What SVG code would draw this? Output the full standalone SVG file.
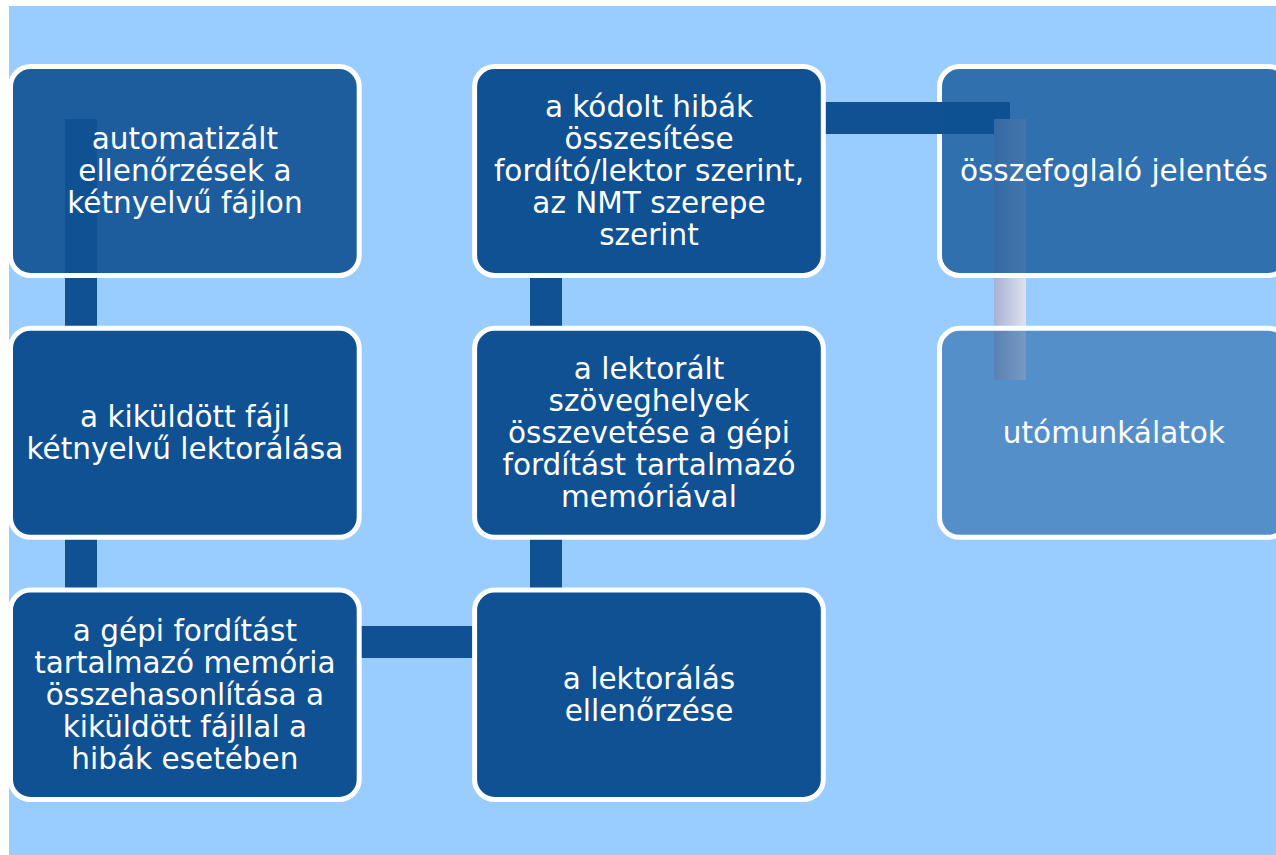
<svg xmlns="http://www.w3.org/2000/svg" width="1276" height="855" viewBox="0 0 1276 855">
  <defs>
    <linearGradient id="fade" x1="0" y1="0" x2="1" y2="0">
      <stop offset="0" stop-color="#A6B1D5"/>
      <stop offset="1" stop-color="#DEE2EF"/>
    </linearGradient>
    <style>
      .box { stroke: #FFFFFF; stroke-width: 5; }
      .dark { fill: #0F5193; }
      .bar { fill: #0F5193; }
      .lbl { font-family: "DejaVu Sans", Verdana, sans-serif; font-size: 29.5px; fill: #FFFFFF; text-anchor: middle; }
    </style>
  </defs>
  <rect x="0" y="0" width="1276" height="855" fill="#FFFFFF"/>
  <rect x="9" y="6" width="1267" height="849" fill="#99CCFF"/>

  <g id="connectors">
    <rect class="bar" x="65" y="119" width="32" height="539"/>
    <rect class="bar" x="65" y="626" width="497" height="32"/>
    <rect class="bar" x="530" y="102" width="32" height="556"/>
    <rect class="bar" x="530" y="102" width="480" height="32"/>
    <rect x="994" y="119" width="32" height="261" fill="url(#fade)"/>
  </g>

  <g id="node1">
    <rect class="box dark" x="10.5" y="66.5" width="348.7" height="209" rx="20" fill-opacity="0.9"/>
    <text class="lbl"><tspan x="184.9" y="149">automatizált</tspan><tspan x="184.9" y="181">ellenőrzések a</tspan><tspan x="184.9" y="213">kétnyelvű fájlon</tspan></text>
  </g>
  <g id="node2">
    <rect class="box dark" x="10.5" y="328.3" width="348.7" height="209" rx="20"/>
    <text class="lbl"><tspan x="184.9" y="427">a kiküldött fájl</tspan><tspan x="184.9" y="459">kétnyelvű lektorálása</tspan></text>
  </g>
  <g id="node3">
    <rect class="box dark" x="10.5" y="590.1" width="348.7" height="209.4" rx="20"/>
    <text class="lbl"><tspan x="184.9" y="641">a gépi fordítást</tspan><tspan x="184.9" y="673">tartalmazó memória</tspan><tspan x="184.9" y="705">összehasonlítása a</tspan><tspan x="184.9" y="737">kiküldött fájllal a</tspan><tspan x="184.9" y="769">hibák esetében</tspan></text>
  </g>
  <g id="node4">
    <rect class="box dark" x="474.6" y="590.1" width="348.7" height="209.4" rx="20"/>
    <text class="lbl"><tspan x="649" y="689">a lektorálás</tspan><tspan x="649" y="721">ellenőrzése</tspan></text>
  </g>
  <g id="node5">
    <rect class="box dark" x="474.6" y="328.3" width="348.7" height="209" rx="20"/>
    <text class="lbl"><tspan x="649" y="379">a lektorált</tspan><tspan x="649" y="411">szöveghelyek</tspan><tspan x="649" y="443">összevetése a gépi</tspan><tspan x="649" y="475">fordítást tartalmazó</tspan><tspan x="649" y="507">memóriával</tspan></text>
  </g>
  <g id="node6">
    <rect class="box dark" x="474.6" y="66.5" width="348.7" height="209" rx="20"/>
    <text class="lbl"><tspan x="649" y="117">a kódolt hibák</tspan><tspan x="649" y="149">összesítése</tspan><tspan x="649" y="181">fordító/lektor szerint,</tspan><tspan x="649" y="213">az NMT szerepe</tspan><tspan x="649" y="245">szerint</tspan></text>
  </g>
  <g id="node7">
    <rect class="box dark" x="939.5" y="66.5" width="348.7" height="209" rx="20" fill-opacity="0.75"/>
    <text class="lbl" x="1113.9" y="181">összefoglaló jelentés</text>
  </g>
  <g id="node8">
    <rect class="box dark" x="939.5" y="328.3" width="348.7" height="209" rx="20" fill-opacity="0.5"/>
    <text class="lbl" x="1113.9" y="443">utómunkálatok</text>
  </g>

  <g id="connector-overlay">
    <rect class="bar" x="935" y="102" width="10" height="32"/>
  </g>
</svg>
